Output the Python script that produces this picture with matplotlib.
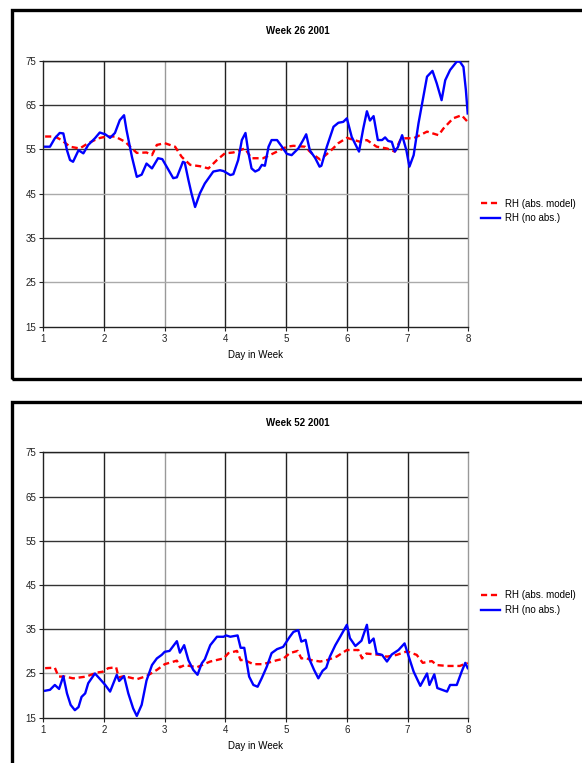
import numpy as np
import matplotlib.pyplot as plt
from matplotlib.patches import Rectangle
from matplotlib.lines import Line2D

plt.rcParams['font.family'] = ['Liberation Sans', 'DejaVu Sans']

# week 26 2001, RH without absorption (day, %)
w26_no_x = [1.03, 1.11, 1.19, 1.27, 1.33, 1.39, 1.44, 1.49, 1.58, 1.66, 1.74, 1.85, 1.93, 2.02,
            2.10, 2.18, 2.26, 2.33, 2.37, 2.46, 2.54, 2.62, 2.70, 2.79, 2.89, 2.96, 3.14, 3.20,
            3.30, 3.33, 3.39, 3.44, 3.50, 3.58, 3.66, 3.80, 3.91, 3.97, 4.08, 4.13, 4.21, 4.27,
            4.33, 4.38, 4.43, 4.49, 4.55, 4.60, 4.65, 4.71, 4.76, 4.85, 4.93, 5.01, 5.09, 5.20,
            5.28, 5.33, 5.39, 5.48, 5.55, 5.58, 5.67, 5.78, 5.86, 5.94, 6.00, 6.08, 6.20, 6.27,
            6.33, 6.38, 6.44, 6.51, 6.58, 6.63, 6.68, 6.74, 6.79, 6.84, 6.91, 6.98, 7.03, 7.10,
            7.18, 7.26, 7.32, 7.41, 7.48, 7.56, 7.62, 7.70, 7.81, 7.86, 7.92, 7.96, 7.99]
w26_no_y = [55.6, 55.6, 57.5, 58.7, 58.6, 54.8, 52.6, 52.2, 54.8, 54.1, 56.0, 57.5, 58.8, 58.4,
            57.6, 58.7, 61.6, 62.7, 59.4, 53.3, 48.8, 49.3, 51.8, 50.7, 53.0, 52.8, 48.5, 48.7,
            52.2, 52.0, 48.1, 45.1, 42.0, 45.1, 47.3, 50.0, 50.3, 50.1, 49.2, 49.4, 52.6, 57.1,
            58.7, 54.1, 50.7, 50.0, 50.4, 51.5, 51.3, 55.6, 57.1, 57.1, 55.6, 54.0, 53.7, 55.2,
            57.1, 58.4, 54.8, 53.0, 51.1, 51.3, 55.6, 60.1, 61.0, 61.2, 62.0, 57.8, 54.5, 59.7,
            63.6, 61.5, 62.5, 57.1, 57.1, 57.7, 56.9, 56.7, 54.5, 55.5, 58.2, 54.8, 51.1, 53.7,
            60.9, 66.9, 71.4, 72.7, 69.9, 66.1, 70.6, 72.9, 74.8, 74.8, 73.6, 68.4, 63.1]

# week 26 2001, RH with absorption model
w26_abs_x = [1.03, 1.19, 1.30, 1.44, 1.60, 1.74, 1.91, 2.04, 2.18, 2.35, 2.46, 2.54, 2.70, 2.79,
             2.87, 3.00, 3.17, 3.28, 3.42, 3.58, 3.72, 3.86, 3.99, 4.13, 4.32, 4.43, 4.62, 4.73,
             4.85, 5.01, 5.12, 5.31, 5.42, 5.56, 5.72, 5.86, 6.00, 6.22, 6.33, 6.49, 6.66, 6.79,
             6.88, 6.96, 7.10, 7.32, 7.51, 7.59, 7.75, 7.89, 7.99]
w26_abs_y = [57.9, 57.9, 57.1, 55.6, 55.2, 56.4, 57.5, 57.9, 57.9, 56.7, 55.2, 54.2, 54.3, 53.7,
             56.0, 56.4, 55.6, 53.3, 51.5, 51.2, 50.7, 52.6, 54.1, 54.3, 55.2, 53.0, 53.0, 53.7,
             54.5, 55.6, 55.8, 55.6, 54.1, 52.7, 54.5, 56.4, 57.6, 56.7, 57.1, 55.6, 55.2, 54.5,
             57.1, 57.5, 57.5, 59.0, 58.2, 59.7, 62.0, 62.7, 61.2]

# week 52 2001, RH without absorption
w52_no_x = [1.03, 1.11, 1.19, 1.26, 1.33, 1.39, 1.45, 1.52, 1.58, 1.63, 1.69, 1.74, 1.85, 1.93,
            2.02, 2.10, 2.21, 2.25, 2.33, 2.40, 2.48, 2.54, 2.62, 2.70, 2.79, 2.87, 2.95, 3.00,
            3.08, 3.20, 3.25, 3.32, 3.39, 3.47, 3.54, 3.61, 3.66, 3.75, 3.86, 3.97, 4.01, 4.08,
            4.20, 4.25, 4.31, 4.39, 4.46, 4.53, 4.60, 4.68, 4.76, 4.85, 4.95, 5.06, 5.12, 5.20,
            5.25, 5.32, 5.39, 5.46, 5.53, 5.60, 5.66, 5.72, 5.81, 5.89, 6.00, 6.05, 6.14, 6.24,
            6.33, 6.37, 6.44, 6.49, 6.58, 6.66, 6.74, 6.85, 6.95, 7.01, 7.10, 7.21, 7.32, 7.36,
            7.44, 7.49, 7.65, 7.70, 7.81, 7.89, 7.95, 7.99]
w52_no_y = [21.1, 21.3, 22.4, 21.5, 24.4, 20.5, 17.9, 16.7, 17.4, 19.7, 20.5, 22.8, 25.0, 23.8,
            22.4, 20.9, 24.7, 23.3, 24.4, 20.5, 17.1, 15.4, 17.9, 23.4, 26.9, 28.4, 29.2, 29.9,
            30.1, 32.3, 29.7, 31.4, 28.0, 25.8, 24.7, 27.3, 28.2, 31.4, 33.3, 33.3, 33.6, 33.3,
            33.6, 30.8, 30.8, 24.3, 22.4, 22.0, 24.0, 26.5, 29.6, 30.5, 31.0, 33.3, 34.4, 34.8,
            32.2, 32.6, 28.0, 25.8, 23.9, 25.6, 26.3, 28.8, 31.4, 33.3, 36.0, 33.0, 31.2, 32.4,
            36.0, 31.9, 32.9, 29.5, 29.2, 27.7, 29.3, 30.3, 31.8, 29.2, 25.4, 22.2, 25.0, 22.4,
            24.8, 21.7, 20.9, 22.4, 22.4, 25.4, 27.4, 26.2]

# week 52 2001, RH with absorption model
w52_abs_x = [1.03, 1.19, 1.25, 1.36, 1.49, 1.71, 1.88, 1.98, 2.07, 2.20, 2.24, 2.33, 2.54, 2.70,
             2.87, 3.00, 3.20, 3.25, 3.33, 3.53, 3.75, 3.97, 4.05, 4.19, 4.25, 4.30, 4.46, 4.62,
             4.85, 4.95, 5.06, 5.19, 5.25, 5.32, 5.42, 5.56, 5.67, 5.83, 6.00, 6.19, 6.25, 6.32,
             6.40, 6.55, 6.66, 6.82, 6.99, 7.15, 7.25, 7.32, 7.40, 7.48, 7.65, 7.86, 7.99]
w52_abs_y = [26.2, 26.3, 24.3, 24.3, 23.9, 24.3, 25.2, 25.4, 26.2, 26.4, 24.1, 24.4, 23.7, 24.4,
             25.8, 27.1, 27.9, 26.4, 26.9, 26.4, 27.7, 28.4, 29.6, 30.1, 28.0, 28.1, 27.1, 27.1,
             28.0, 28.3, 29.6, 30.1, 28.4, 28.5, 28.0, 27.7, 28.0, 28.8, 30.3, 30.3, 28.4, 29.5,
             29.4, 29.2, 28.8, 29.2, 30.0, 29.2, 27.4, 27.6, 27.8, 26.9, 26.7, 26.7, 27.4]

titles = ['Week 26 2001', 'Week 52 2001']
series = [(w26_abs_x, w26_abs_y, w26_no_x, w26_no_y),
          (w52_abs_x, w52_abs_y, w52_no_x, w52_no_y)]

W, H = 582, 763
fig = plt.figure(figsize=(W / 100, H / 100), dpi=100)

def fx(px):
    return px / W

def fy(py):
    return 1 - py / H

# (panel top, axes top, axes bottom) in pixels
layout = [(10, 60.7, 326.7), (402, 452.3, 717.7)]

for k, (top, ax_top, ax_bot) in enumerate(layout):
    # chart-area frame, right side runs off the picture
    bot = top + 369 if k == 0 else H + 20
    fig.patches.append(Rectangle((fx(12), fy(bot)), fx(600), fy(top) - fy(bot),
                                 transform=fig.transFigure, fill=False,
                                 edgecolor='black', linewidth=2.4))

    ax = fig.add_axes([fx(43.3), fy(ax_bot), fx(468.3) - fx(43.3), fy(ax_top) - fy(ax_bot)])
    ax.set_xlim(1, 8)
    ax.set_ylim(15, 75)
    ax.set_xticks(range(1, 9))
    ax.set_yticks(range(15, 76, 10))

    for x in range(2, 8):
        ax.axvline(x, color='#999999' if x == 3 else '#222222', lw=1.0, zorder=1)
    for y in range(25, 76, 10):
        gray = (y == 25) or (k == 0 and y == 45)
        ax.axhline(y, color='#aaaaaa' if gray else '#333333', lw=1.0, zorder=1)

    ax_x, ax_y, no_x, no_y = series[k]
    ax.plot(ax_x, ax_y, color='#ff0000', lw=1.7, ls=(0, (2.6, 1.6)), zorder=3)
    ax.plot(no_x, no_y, color='#0000ff', lw=1.7, zorder=4)

    for s in ['top', 'left', 'bottom']:
        ax.spines[s].set_color('#222222')
    ax.spines['right'].set_color('#999999')
    for s in ax.spines.values():
        s.set_linewidth(1.0)
    ax.tick_params(length=3, width=0.8, labelsize=7, pad=2, colors='#222222')

    fig.text(fx(298), fy(top + 21), titles[k], ha='center', va='center',
             fontsize=7, fontweight='bold')
    fig.text(fx(255.5), fy(ax_bot + 28), 'Day in Week', ha='center', va='center', fontsize=7)

    handles = [Line2D([], [], color='#ff0000', lw=1.7, ls=(0, (2.6, 1.6))),
               Line2D([], [], color='#0000ff', lw=1.7)]
    fig.legend(handles, ['RH (abs. model)', 'RH (no abs.)'],
               loc='upper left', bbox_to_anchor=(fx(477), fy(ax_top + 134)),
               frameon=False, fontsize=7, handlelength=2.0, handletextpad=0.5,
               labelspacing=0.5, borderaxespad=0)

fig.savefig('out.png', dpi=100)
